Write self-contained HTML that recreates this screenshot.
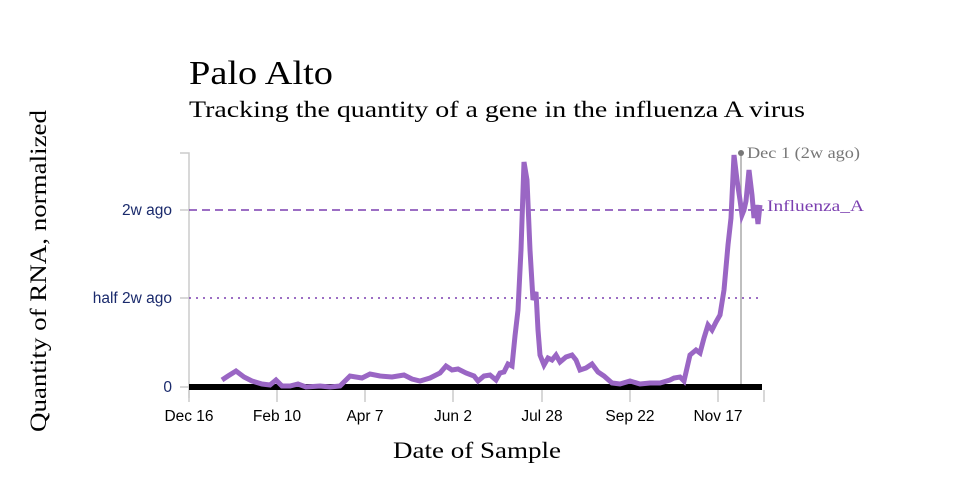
<!DOCTYPE html>
<html><head><style>body{margin:0;background:#fff}svg{display:block}</style></head><body>
<svg width="958" height="500" xmlns="http://www.w3.org/2000/svg">
<rect width="958" height="500" fill="#fff"/>
<text x="189" y="84" font-family="Liberation Serif, serif" font-size="34" fill="#000" textLength="144" lengthAdjust="spacingAndGlyphs">Palo Alto</text>
<text x="189" y="117" font-family="Liberation Serif, serif" font-size="23" fill="#000" textLength="616" lengthAdjust="spacingAndGlyphs">Tracking the quantity of a gene in the influenza A virus</text>
<text transform="translate(46,271) rotate(-90)" text-anchor="middle" font-family="Liberation Serif, serif" font-size="23" fill="#000" textLength="322" lengthAdjust="spacingAndGlyphs">Quantity of RNA, normalized</text>
<text x="477" y="458" text-anchor="middle" font-family="Liberation Serif, serif" font-size="23" fill="#000" textLength="168" lengthAdjust="spacingAndGlyphs">Date of Sample</text>
<g stroke="#ccc" stroke-width="1.5" fill="none">
<path d="M180 153H189V398"/>
<path d="M180 210H189M180 298H189M180 387H189"/>
<path d="M189 390V402M277 390V402M365 390V402M453 390V402M542 390V402M630 390V402M718 390V402M764 390V402"/>
</g>
<g font-family="Liberation Sans, sans-serif" font-size="15.5" fill="#1a2a6c" text-anchor="end">
<text x="172" y="215">2w ago</text><text x="172" y="303">half 2w ago</text><text x="172" y="392">0</text>
</g>
<g font-family="Liberation Sans, sans-serif" font-size="15.5" fill="#000" text-anchor="middle">
<text x="189" y="421">Dec 16</text><text x="277" y="421">Feb 10</text><text x="365" y="421">Apr 7</text><text x="453" y="421">Jun 2</text><text x="542" y="421">Jul 28</text><text x="630" y="421">Sep 22</text><text x="718" y="421">Nov 17</text>
</g>
<line x1="189" y1="210" x2="764" y2="210" stroke="#7b3fb0" stroke-width="1.6" stroke-dasharray="8,5"/>
<line x1="189" y1="298" x2="762" y2="298" stroke="#7b3fb0" stroke-width="1.6" stroke-dasharray="2,5"/>
<line x1="741" y1="153" x2="741" y2="387" stroke="#aaa" stroke-width="1.5"/>
<circle cx="741" cy="153" r="3" fill="#777"/>
<text x="747" y="158" font-family="Liberation Serif, serif" font-size="16" fill="#777" textLength="113" lengthAdjust="spacingAndGlyphs">Dec 1 (2w ago)</text>
<text x="767" y="211" font-family="Liberation Serif, serif" font-size="16" fill="#7b3fb0" textLength="97" lengthAdjust="spacingAndGlyphs">Influenza_A</text>
<line x1="189" y1="387" x2="762" y2="387" stroke="#000" stroke-width="6"/>
<polyline fill="none" stroke="#9a66c4" stroke-width="5" stroke-linejoin="miter" points="222,380 228,376 236,371 244,377 252,381 262,384 270,385 276,380 282,386 290,386 298,384 306,387 320,386 330,387 340,386 350,376 362,378 370,374 380,376 392,377 404,375 412,379 420,381 430,378 440,373 446,366 452,370 458,369 466,373 474,376 478,381 484,376 490,375 496,380 500,373 504,372 508,364 512,366 515,336 518,310 521,250 524,162 527,180 530,250 533,300 536,292 538,330 540,355 544,365 548,358 552,360 556,355 560,362 566,357 572,355 576,360 580,370 586,368 592,364 598,372 604,376 612,383 620,384 630,381 640,384 650,383 660,383 670,380 674,378 680,377 684,381 690,355 696,350 700,353 704,338 708,325 712,330 716,322 720,315 724,290 728,245 731,218 734,155 737,180 740,200 742,215 744,210 746,201 749,170 752,195 754,218 756,205 758,224 760,205"/>
</svg>
</body></html>
